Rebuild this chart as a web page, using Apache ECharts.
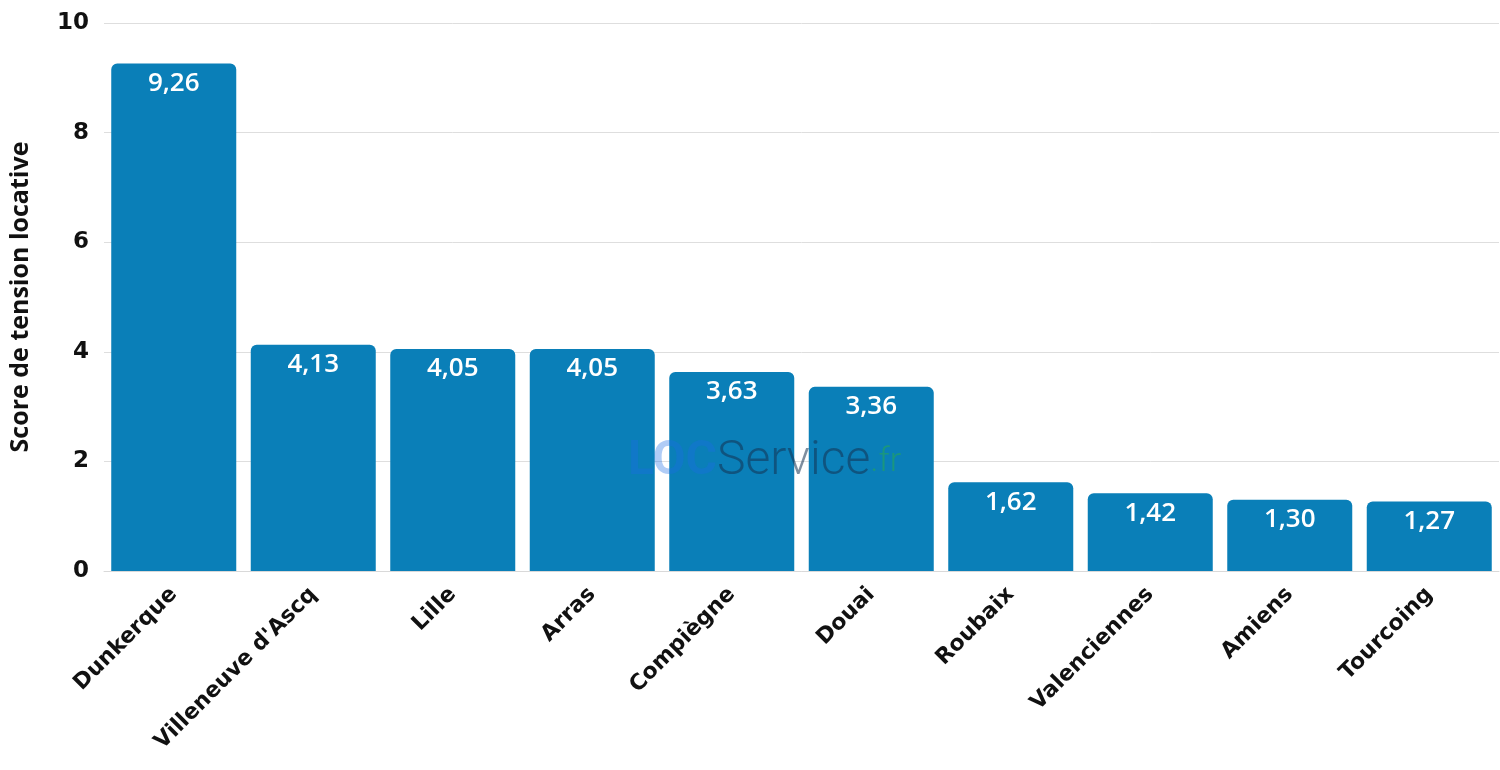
<!DOCTYPE html>
<html>
<head>
<meta charset="utf-8">
<style>
	html, body { margin: 0; padding: 0; background: #fff; }
	#chart { width: 1500px; height: 770px; }
</style>
</head>
<body>
<div id="chart"></div>
<script src="https://cdn.jsdelivr.net/npm/echarts@6/dist/echarts.min.js"></script>
<script>
	var villes = ['Dunkerque', "Villeneuve d'Ascq", 'Lille', 'Arras', 'Compiègne', 'Douai', 'Roubaix', 'Valenciennes', 'Amiens', 'Tourcoing'];
	var scores = [9.26, 4.13, 4.05, 4.05, 3.63, 3.36, 1.62, 1.42, 1.30, 1.27];
	var yTicks = [0, 2, 4, 6, 8, 10];

	var myChart = echarts.init(document.getElementById('chart'));

	var option = {
		animation: false,
		grid: { left: 103, right: 1, top: 23, bottom: 199 },
		graphic: [{
			type: 'text',
			left: 628,
			top: 438,
			z: 100,
			silent: true,
			style: {
				text: '{a|LOC}{b|Service}{c|.fr}',
				rich: {
					a: { fontFamily: 'Roboto', fontWeight: 'bold', fontSize: 48, fill: 'rgba(30,110,230,0.35)' },
					b: { fontFamily: 'Roboto', fontWeight: 300, fontSize: 48, fill: 'rgba(20,50,80,0.55)' },
					c: { fontFamily: 'Roboto', fontWeight: 300, fontSize: 34, fill: 'rgba(40,170,80,0.55)' }
				}
			}
		}],
		xAxis: {
			type: 'category',
			data: villes,
			axisTick: { show: false },
			axisLine: { lineStyle: { color: '#d9d9d9' } },
			axisLabel: {
				rotate: 45,
				interval: 0,
				margin: 20,
				color: '#111',
				fontFamily: 'DejaVu Sans',
				fontWeight: 'bold',
				fontSize: 22
			}
		},
		yAxis: {
			type: 'value',
			min: yTicks[0],
			max: yTicks[yTicks.length - 1],
			interval: 2,
			name: 'Score de tension locative',
			nameLocation: 'middle',
			nameGap: 71,
			nameTextStyle: { color: '#111', fontFamily: 'Open Sans', fontWeight: 'bold', fontSize: 25 },
			axisLabel: { color: '#111', fontFamily: 'DejaVu Sans', fontWeight: 'bold', fontSize: 23, margin: 15 },
			splitLine: { lineStyle: { color: '#dedede' } }
		},
		series: [{
			type: 'bar',
			data: scores,
			barWidth: 125,
			itemStyle: { color: '#0a7fb8', borderRadius: [6, 6, 0, 0] },
			label: {
				show: true,
				position: 'insideTop',
				distance: 7,
				color: '#fff',
				fontFamily: 'Open Sans',
				fontWeight: 600,
				fontSize: 26,
				formatter: function (p) { return p.value.toFixed(2).replace('.', ','); }
			}
		}]
	};
	myChart.setOption(option);
</script>
</body>
</html>
